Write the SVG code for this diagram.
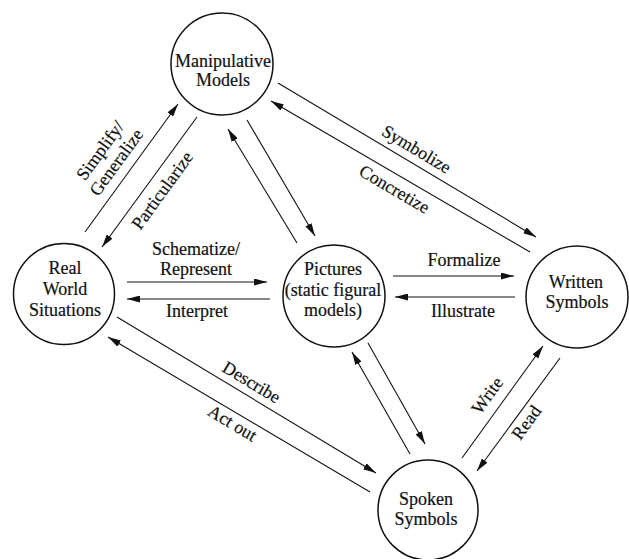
<svg xmlns="http://www.w3.org/2000/svg" width="629" height="559" viewBox="0 0 629 559">
<style>
.node{fill:#fff;stroke:#111;stroke-width:1.5}
.nt{font-family:"Liberation Serif","Times New Roman",serif;font-size:18px;fill:#111;text-anchor:middle;stroke:#111;stroke-width:0.2}
.lb{font-family:"Liberation Serif","Times New Roman",serif;font-size:18px;fill:#111;text-anchor:middle;stroke:#111;stroke-width:0.2}
.cn{stroke:#111;stroke-width:1.1;fill:none;marker-end:url(#ah)}
</style>
<defs>
<marker id="ah" viewBox="0 0 13 7" refX="13" refY="3.5" markerWidth="13" markerHeight="7" markerUnits="userSpaceOnUse" orient="auto">
<path d="M0,0 L13,3.5 L0,7 Z" fill="#111"/>
</marker>
</defs>
<rect width="629" height="559" fill="#fff"/>
<g id="connectors">
<line class="cn" x1="85" y1="232" x2="178" y2="104"/>
<line class="cn" x1="197" y1="117" x2="102" y2="247"/>
<line class="cn" x1="247" y1="120" x2="315" y2="236"/>
<line class="cn" x1="297" y1="243" x2="228" y2="129"/>
<line class="cn" x1="278" y1="83" x2="536" y2="237"/>
<line class="cn" x1="530" y1="252" x2="271" y2="101"/>
<line class="cn" x1="127" y1="282" x2="267" y2="282"/>
<line class="cn" x1="270" y1="299" x2="127" y2="299"/>
<line class="cn" x1="393" y1="276" x2="514" y2="276"/>
<line class="cn" x1="515" y1="297" x2="395" y2="297"/>
<line class="cn" x1="368" y1="343" x2="425" y2="444"/>
<line class="cn" x1="410" y1="454" x2="352" y2="352"/>
<line class="cn" x1="462" y1="458" x2="543" y2="346"/>
<line class="cn" x1="560" y1="358" x2="477" y2="471"/>
<line class="cn" x1="117" y1="317" x2="376" y2="473"/>
<line class="cn" x1="370" y1="492" x2="108" y2="337"/>
<g id="labels">
<g transform="translate(109,157) rotate(-54)"><text class="lb" y="-5">Simplify/</text><text class="lb" y="15">Generalize</text></g>
<text class="lb" transform="translate(163,191) rotate(-54)" y="5">Particularize</text>
<text class="lb" transform="translate(416,150) rotate(31)" y="5">Symbolize</text>
<text class="lb" transform="translate(394,190) rotate(30.5)" y="5">Concretize</text>
<text class="lb" x="196" y="255">Schematize/</text>
<text class="lb" x="196" y="275">Represent</text>
<text class="lb" x="197" y="317">Interpret</text>
<text class="lb" x="464" y="266">Formalize</text>
<text class="lb" x="463" y="317">Illustrate</text>
<text class="lb" transform="translate(251,383) rotate(31)" y="5">Describe</text>
<text class="lb" transform="translate(232,424) rotate(31)" y="5">Act out</text>
<text class="lb" transform="translate(488,396) rotate(-54)" y="5">Write</text>
<text class="lb" transform="translate(527,423) rotate(-54)" y="5">Read</text>
</g>
</g>
<g id="manipulative">
<circle class="node" cx="222" cy="64" r="51"/>
<text class="nt" x="223" y="67">Manipulative</text>
<text class="nt" x="223" y="86">Models</text>
</g>
<g id="real">
<circle class="node" cx="64" cy="294" r="50.5"/>
<text class="nt" x="65" y="274">Real</text>
<text class="nt" x="65" y="295">World</text>
<text class="nt" x="65" y="316">Situations</text>
</g>
<g id="pictures">
<circle class="node" cx="334" cy="296" r="51"/>
<text class="nt" x="333" y="275">Pictures</text>
<text class="nt" x="333" y="296">(static figural</text>
<text class="nt" x="333" y="316">models)</text>
</g>
<g id="written">
<circle class="node" cx="577" cy="297" r="51"/>
<text class="nt" x="576" y="288">Written</text>
<text class="nt" x="577" y="308">Symbols</text>
</g>
<g id="spoken">
<circle class="node" cx="428" cy="510" r="50"/>
<text class="nt" x="426" y="505">Spoken</text>
<text class="nt" x="426" y="525">Symbols</text>
</g>
</svg>
